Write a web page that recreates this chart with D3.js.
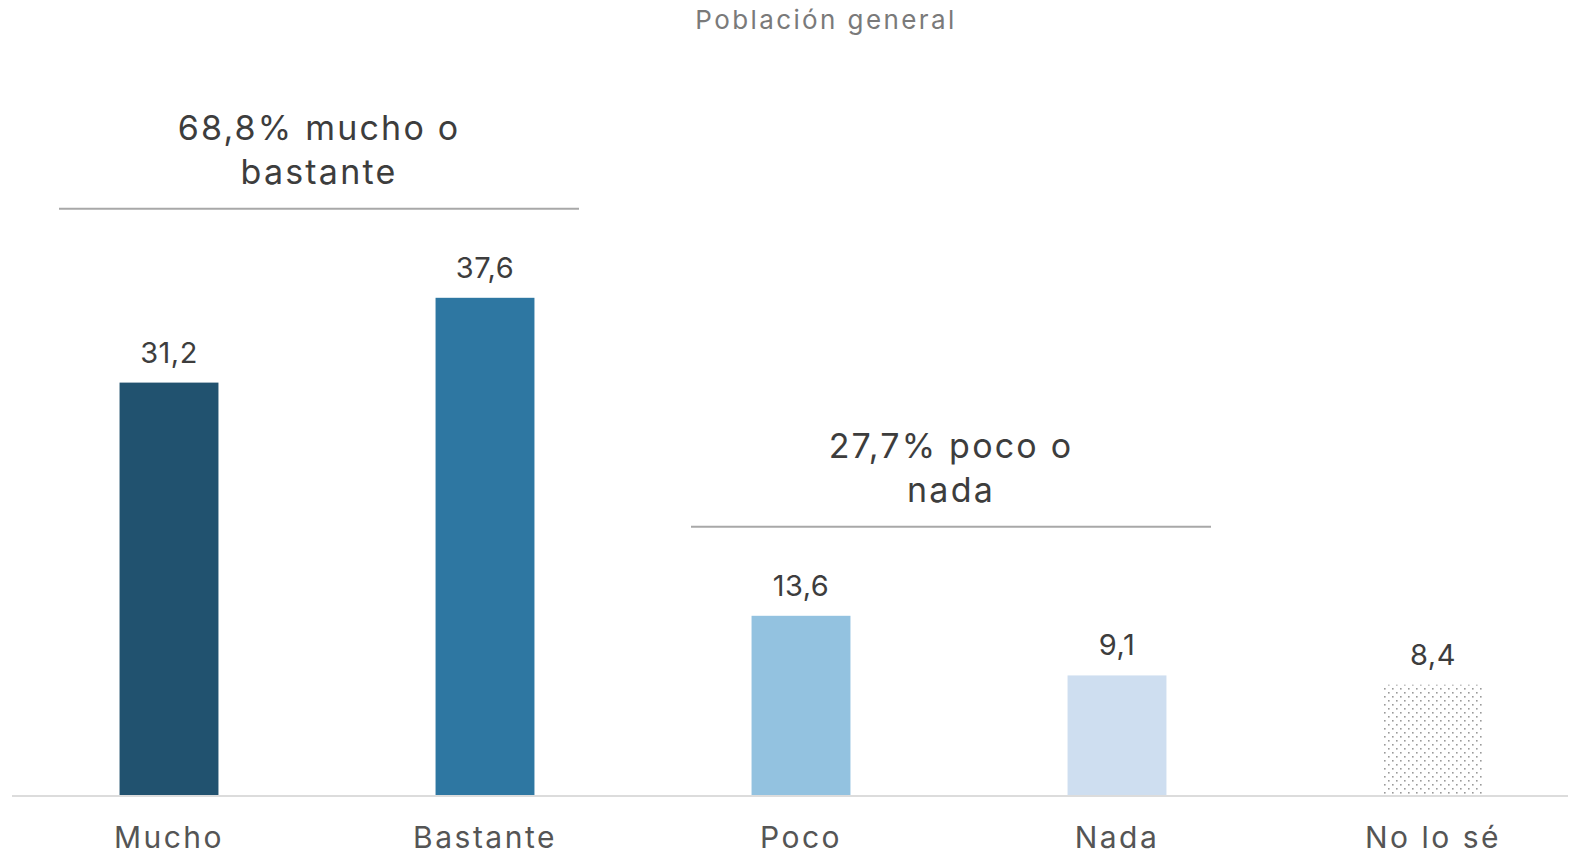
<!DOCTYPE html>
<html>
  <head>
    <meta charset="utf-8" />
    <script src="https://d3js.org/d3.v7.min.js"></script>
    <style>
        body {margin: 0; background: #fff;}
        text {font-family: "Inter", "Open Sans", sans-serif;}
    </style>
  </head>
  <body>
    <svg id="viz"></svg>
    <script>
        var width = 1570
        var height = 855

        // data
        var categories = ["Mucho", "Bastante", "Poco", "Nada", "No lo sé"]
        var values = [31.2, 37.6, 13.6, 9.1, 8.4]
        var barColors = ["#21526f", "#2e77a2", "#93c2e0", "#cedef0", "url(#dots)"]
        var groupLabels = [["68,8% mucho o", "bastante"], ["27,7% poco o", "nada"]]
        var groupSpans = [["Mucho", "Bastante"], ["Poco", "Nada"]]
        var title = "Población general"

        var svg = d3.select("#viz")
            .attr("width", width)
            .attr("height", height)

        // dotted pattern for "No lo sé"
        var pat = svg.append("defs").append("pattern")
            .attr("id", "dots")
            .attr("width", 8).attr("height", 8)
            .attr("patternUnits", "userSpaceOnUse")
        pat.append("rect").attr("width", 8).attr("height", 8).attr("fill", "#fff")
        pat.append("rect").attr("x", 0).attr("y", 0).attr("width", 1.6).attr("height", 1.6).attr("fill", "#9a9a9a")
        pat.append("rect").attr("x", 4).attr("y", 4).attr("width", 1.6).attr("height", 1.6).attr("fill", "#9a9a9a")

        var x = d3.scaleBand()
            .domain(categories)
            .range([11, 1591])
            .paddingInner(0.687)
            .paddingOuter(0.3435)

        var y = d3.scaleLinear()
            .domain([0, 40])
            .range([796, 266])

        // title
        svg.append("text")
            .attr("x", 826).attr("y", 29)
            .attr("text-anchor", "middle")
            .attr("font-size", 26)
            .attr("letter-spacing", 2.4)
            .attr("fill", "#7a7a7a")
            .text(title)

        // bars
        svg.selectAll("rect.bar")
            .data(values)
            .enter().append("rect")
            .attr("class", "bar")
            .attr("x", function(d, i) { return x(categories[i]) })
            .attr("width", x.bandwidth())
            .attr("y", function(d) { return y(d) })
            .attr("height", function(d) { return y(0) - y(d) })
            .attr("fill", function(d, i) { return barColors[i] })

        // value labels
        svg.selectAll("text.val")
            .data(values)
            .enter().append("text")
            .attr("class", "val")
            .attr("x", function(d, i) { return x(categories[i]) + x.bandwidth() / 2 })
            .attr("y", function(d) { return y(d) - 20 })
            .attr("text-anchor", "middle")
            .attr("font-size", 29)
            .attr("letter-spacing", 0.5)
            .attr("fill", "#3d3d3d")
            .text(function(d) { return d3.format(".1f")(d).replace(".", ",") })

        // baseline axis
        var axis = svg.append("g")
            .attr("transform", "translate(0," + y(0) + ")")
            .call(d3.axisBottom(x).tickSize(0).tickPadding(31))
        axis.select(".domain")
            .attr("d", "M12,0H1568")
            .attr("stroke", "#dcdcdc")
            .attr("stroke-width", 2)
        axis.selectAll("text")
            .attr("font-size", 30)
            .attr("letter-spacing", 2.5)
            .attr("font-family", "Inter, 'Open Sans', sans-serif")
            .attr("fill", "#555")

        // group annotations
        groupSpans.forEach(function(span, i) {
            var x0 = x(span[0]) + x.bandwidth() / 2
            var x1 = x(span[1]) + x.bandwidth() / 2
            var cx = (x0 + x1) / 2 - 8
            var top = d3.max(span, function(c) { return values[categories.indexOf(c)] })
            var ly = y(top) - 89
            svg.append("line")
                .attr("x1", cx - 260).attr("x2", cx + 260)
                .attr("y1", ly).attr("y2", ly)
                .attr("stroke", "#a8a8a8")
                .attr("stroke-width", 2)
            var t = svg.append("text")
                .attr("x", cx)
                .attr("text-anchor", "middle")
                .attr("font-size", 34)
                .attr("letter-spacing", 2.2)
                .attr("fill", "#3d3d3d")
            groupLabels[i].forEach(function(line, j) {
                t.append("tspan")
                    .attr("x", cx)
                    .attr("y", ly - 69 + j * 44)
                    .text(line)
            })
        })
    </script>
  </body>
</html>
